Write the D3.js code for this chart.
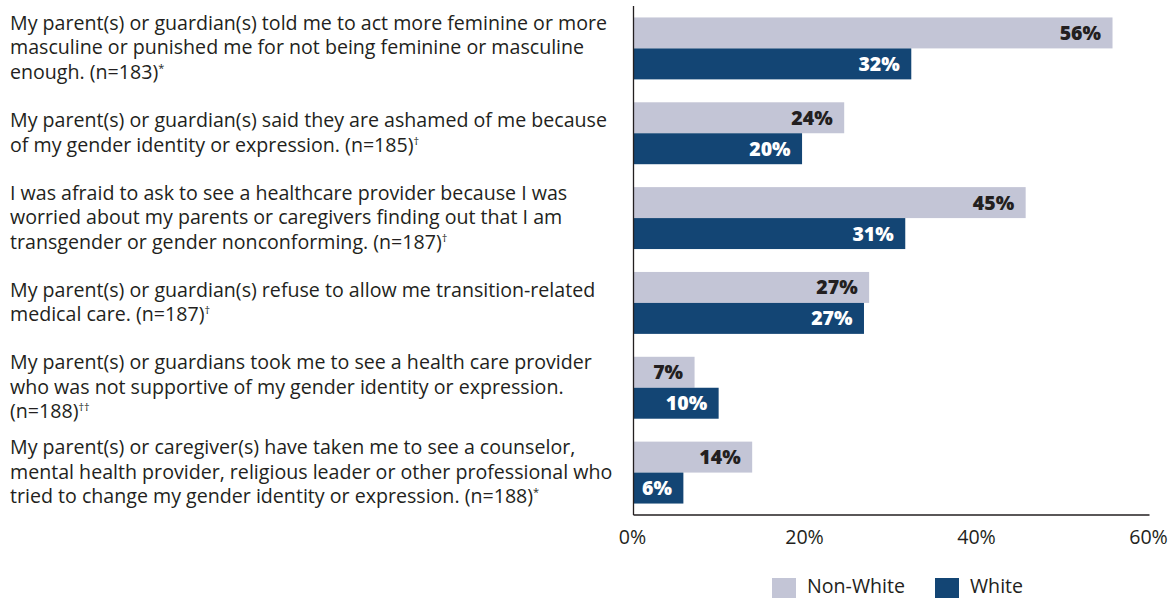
<!DOCTYPE html>
<html>
<head>
<meta charset="utf-8">
<script src="https://cdn.jsdelivr.net/npm/d3@7"></script>
<style>
  html, body { margin: 0; padding: 0; background: #fff; }
  svg { display: block; }
</style>
</head>
<body>
<svg id="chart" width="1176" height="598"></svg>
<script>
// ---- data ----
const categories = [
  "parent_gender_norms",
  "parent_ashamed",
  "afraid_healthcare",
  "refuse_transition_care",
  "unsupportive_provider",
  "conversion_professional"
];
const categoryLines = [
  ["My parent(s) or guardian(s) told me to act more feminine or more",
   "masculine or punished me for not being feminine or masculine",
   "enough. (n=183)"],
  ["My parent(s) or guardian(s) said they are ashamed of me because",
   "of my gender identity or expression. (n=185)"],
  ["I was afraid to ask to see a healthcare provider because I was",
   "worried about my parents or caregivers finding out that I am",
   "transgender or gender nonconforming. (n=187)"],
  ["My parent(s) or guardian(s) refuse to allow me transition-related",
   "medical care. (n=187)"],
  ["My parent(s) or guardians took me to see a health care provider",
   "who was not supportive of my gender identity or expression.",
   "(n=188)"],
  ["My parent(s) or caregiver(s) have taken me to see a counselor,",
   "mental health provider, religious leader or other professional who",
   "tried to change my gender identity or expression. (n=188)"]
];
const categoryMarks = ["*", "\u2020", "\u2020", "\u2020", "\u2020\u2020", "*"];
const seriesNames = ["Non-White", "White"];
// bar lengths (unrounded)
const nonWhite = [55.7, 24.5, 45.6, 27.4, 7.1, 13.8];
const white = [32.3, 19.6, 31.6, 26.8, 9.9, 5.8];
// printed labels
const nonWhiteLabels = ["56%", "24%", "45%", "27%", "7%", "14%"];
const whiteLabels = ["32%", "20%", "31%", "27%", "10%", "6%"];
const xTicks = [0, 20, 40, 60];

// ---- layout ----
const svg = d3.select("#chart");
const plot = { left: 633.5, right: 1149.5, top: 6, bottom: 515 };
const colors = { "Non-White": "#c3c5d6", "White": "#134574" };
const labelColors = { "Non-White": "#231f20", "White": "#ffffff" };
const textColor = "#231f20";
const font = "'Open Sans', 'Noto Sans', sans-serif";
const boldFont = "'Open Sans', 'Noto Sans', sans-serif";

const x = d3.scaleLinear().domain([0, 60]).range([plot.left, plot.right]);
const y = d3.scaleBand().domain(categories).range([plot.top, plot.bottom])
  .paddingInner(0.27).paddingOuter(0.135);
const ySub = d3.scaleBand().domain(seriesNames).range([0, y.bandwidth()]);

const rows = categories.map((c, i) => ({
  cat: c, lines: categoryLines[i], mark: categoryMarks[i],
  values: [
    { series: "Non-White", value: nonWhite[i], label: nonWhiteLabels[i] },
    { series: "White", value: white[i], label: whiteLabels[i] }
  ]
}));

// fit label font so the first line spans the same width as the reference
const probe = svg.append("text").attr("font-family", font).attr("font-size", 18)
  .text(categoryLines[0][0]);
const w18 = probe.node().getComputedTextLength();
probe.remove();
const labelSize = Math.min(20, 18 * 597 / w18);

// bars
const g = svg.append("g");
const groups = g.selectAll("g.grp").data(rows).join("g")
  .attr("class", "grp")
  .attr("transform", d => `translate(0,${y(d.cat)})`);

groups.selectAll("rect").data(d => d.values).join("rect")
  .attr("x", x(0))
  .attr("y", d => ySub(d.series))
  .attr("width", d => x(d.value) - x(0))
  .attr("height", ySub.bandwidth())
  .attr("fill", d => colors[d.series]);

groups.selectAll("text.val").data(d => d.values).join("text")
  .attr("class", "val")
  .attr("x", d => x(d.value) - 11.5)
  .attr("y", d => ySub(d.series) + ySub.bandwidth() / 2)
  .attr("dy", "0.36em")
  .attr("text-anchor", "end")
  .attr("font-family", boldFont)
  .attr("font-weight", 800)
  .attr("font-size", 19.5)
  .attr("fill", d => labelColors[d.series])
  .text(d => d.label);

// category labels
const lineH = 24.5;
const labels = svg.append("g").selectAll("text.cat").data(rows).join("text")
  .attr("class", "cat")
  .attr("font-family", font)
  .attr("font-size", labelSize)
  .attr("fill", textColor);

labels.each(function(d) {
  const t = d3.select(this);
  const n = d.lines.length;
  const cy = y(d.cat) + y.bandwidth() / 2;
  d.lines.forEach((ln, k) => {
    const ty = cy + (k - (n - 1) / 2) * lineH + 6;
    t.append("tspan").attr("x", 10).attr("y", ty).text(ln);
    if (k === n - 1) {
      t.append("tspan").attr("font-size", 11).attr("dy", -7).text(d.mark);
    }
  });
});

// axes lines
svg.append("line")
  .attr("x1", x(0)).attr("x2", x(0))
  .attr("y1", plot.top).attr("y2", plot.bottom)
  .attr("stroke", "#231f20").attr("stroke-width", 1.3);
svg.append("line")
  .attr("x1", x(0)).attr("x2", x(60))
  .attr("y1", plot.bottom).attr("y2", plot.bottom)
  .attr("stroke", "#231f20").attr("stroke-width", 1.3);

// tick labels
svg.append("g").selectAll("text.tick").data(xTicks).join("text")
  .attr("x", d => x(d) - 1)
  .attr("y", plot.bottom + 29)
  .attr("text-anchor", "middle")
  .attr("font-family", font)
  .attr("font-size", labelSize)
  .attr("fill", textColor)
  .text(d => d + "%");

// legend
const legendX = [772, 935];
const leg = svg.append("g").selectAll("g.leg").data(seriesNames).join("g")
  .attr("transform", (d, i) => `translate(${legendX[i]},578)`);
leg.append("rect").attr("width", 24).attr("height", 24).attr("fill", d => colors[d]);
leg.append("text").attr("x", 35).attr("y", 15)
  .attr("font-family", font).attr("font-size", labelSize).attr("fill", textColor)
  .text(d => d);
</script>
</body>
</html>
